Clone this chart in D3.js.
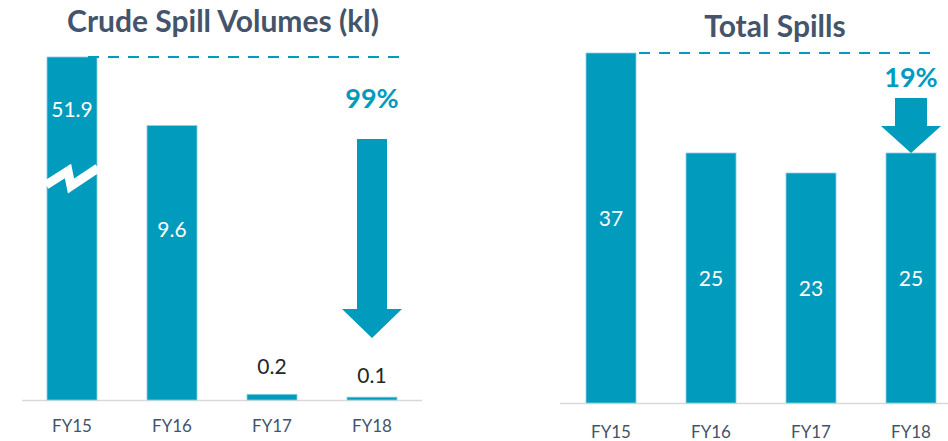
<!DOCTYPE html>
<head>
<meta charset="utf-8">
</head>
<style>
  body { margin: 0; background: #fff; font-family: Lato, sans-serif; }
  .title { font-weight: bold; font-size: 30px; fill: #44546a; }
  .tick-label { font-size: 17px; fill: #44546a; }
  .value { font-size: 21px; }
  .pct { font-weight: bold; font-size: 27px; fill: #009bbd; }
</style>
<body>
<script src="https://d3js.org/d3.v7.min.js"></script>
<script>

// data
var categories = ["FY15", "FY16", "FY17", "FY18"]
var crudeVolumes = [51.9, 9.6, 0.2, 0.1]
var totalSpills = [37, 25, 23, 25]

var barColor = "#009bbd"

var svg = d3.select("body").append("svg")
    .attr("width", 948)
    .attr("height", 441)

function arrowPath(cx, yTop, yTip, shaft, head, headH) {
  var yh = yTip - headH
  return "M" + (cx - shaft) + "," + yTop +
    "L" + (cx + shaft) + "," + yTop +
    "L" + (cx + shaft) + "," + yh +
    "L" + (cx + head) + "," + yh +
    "L" + cx + "," + yTip +
    "L" + (cx - head) + "," + yh +
    "L" + (cx - shaft) + "," + yh + "Z"
}

function drawChart(opt) {
  var g = svg.append("g")

  var x = d3.scaleBand()
      .domain(categories)
      .range(opt.xRange)
      .paddingInner(0.5)
      .paddingOuter(0.25)

  var y = d3.scaleLinear()
      .domain(opt.yDomain)
      .range(opt.yRange)
      .clamp(true)

  var data = categories.map(function(c, i) { return {cat: c, value: opt.values[i], i: i} })

  // title
  g.append("text")
      .attr("class", "title")
      .attr("x", opt.titleX)
      .attr("y", opt.titleY)
      .attr("text-anchor", "middle")
      .text(opt.title)

  // baseline
  g.append("line")
      .attr("x1", opt.axisX[0])
      .attr("x2", opt.axisX[1])
      .attr("y1", y(0) + 0.5)
      .attr("y2", y(0) + 0.5)
      .style("stroke", "#d9d9d9")
      .style("stroke-width", 1.5)

  // bars
  g.selectAll(".bar")
      .data(data)
    .enter().append("rect")
      .attr("class", "bar")
      .attr("x", function(d) { return x(d.cat) })
      .attr("width", x.bandwidth())
      .attr("y", function(d) { return y(d.value) })
      .attr("height", function(d) { return y(0) - y(d.value) })
      .style("fill", barColor)
      .style("stroke", "#8ccfe0")
      .style("stroke-width", 0.8)

  // dashed reference line from the first bar
  g.append("line")
      .attr("x1", x(categories[0]) + x.bandwidth() - opt.dashIn)
      .attr("x2", opt.dashEnd)
      .attr("y1", y(opt.values[0]))
      .attr("y2", y(opt.values[0]))
      .style("stroke", barColor)
      .style("stroke-width", 2)
      .style("stroke-dasharray", "11,9")

  // x labels
  g.selectAll(".tick-label")
      .data(categories)
    .enter().append("text")
      .attr("class", "tick-label")
      .attr("x", function(d) { return x(d) + x.bandwidth() / 2 })
      .attr("y", opt.tickY)
      .attr("text-anchor", "middle")
      .text(function(d) { return d })

  // value labels
  g.selectAll(".value")
      .data(data)
    .enter().append("text")
      .attr("class", "value")
      .attr("x", function(d) { return x(d.cat) + x.bandwidth() / 2 })
      .attr("y", function(d) { return opt.labelY(d, y) })
      .attr("text-anchor", "middle")
      .style("fill", function(d) { return opt.labelInside(d) ? "#fff" : "#262626" })
      .text(function(d) { return d.value })

  var last = categories[categories.length - 1]
  var cx = x(last) + x.bandwidth() / 2

  g.append("path")
      .attr("d", arrowPath(cx, y(opt.arrow[0]), y(opt.arrow[1]), opt.arrow[2], 30, opt.arrow[3]))
      .style("fill", barColor)

  g.append("text")
      .attr("class", "pct")
      .attr("x", cx)
      .attr("y", y(opt.pctAt))
      .attr("text-anchor", "middle")
      .text(opt.pct)

  return {g: g, x: x, y: y}
}

// left: crude spill volumes, FY15 bar is broken
var crudeLabelAt = [9.9, 5.7, 0.9, 0.6]
var left = drawChart({
  title: "Crude Spill Volumes (kl)",
  titleX: 223, titleY: 32,
  values: crudeVolumes,
  xRange: [22, 422],
  axisX: [22, 422],
  yDomain: [0, 12],
  yRange: [400, 57],
  tickY: 432,
  dashIn: 9,
  dashEnd: 402,
  labelY: function(d, y) { return y(crudeLabelAt[d.i]) },
  labelInside: function(d) { return d.value > 1 },
  arrow: [9.13, 2.17, 15, 29],
  pctAt: 10.2,
  pct: "99%"
})

// break mark on FY15
var bx = left.x("FY15"), by = left.y(7.8)
left.g.append("polyline")
    .attr("points", [
      [bx - 1, by + 8], [bx + 21, by - 6], [bx + 24, by + 9], [bx + 51, by - 9]
    ].map(function(p) { return p.join(",") }).join(" "))
    .style("fill", "none")
    .style("stroke", "#fff")
    .style("stroke-width", 9)

// right: total spills
drawChart({
  title: "Total Spills",
  titleX: 775, titleY: 37,
  values: totalSpills,
  xRange: [561, 961],
  axisX: [560, 948],
  yDomain: [0, 35],
  yRange: [403, 53],
  tickY: 438,
  dashIn: -3,
  dashEnd: 935,
  labelY: function(d, y) { return (y(0) + (403 - d.value * 10)) / 2 + 8 },
  labelInside: function() { return true },
  arrow: [30.5, 25, 16, 27],
  pctAt: 31.6,
  pct: "19%"
})

</script>
</body>
